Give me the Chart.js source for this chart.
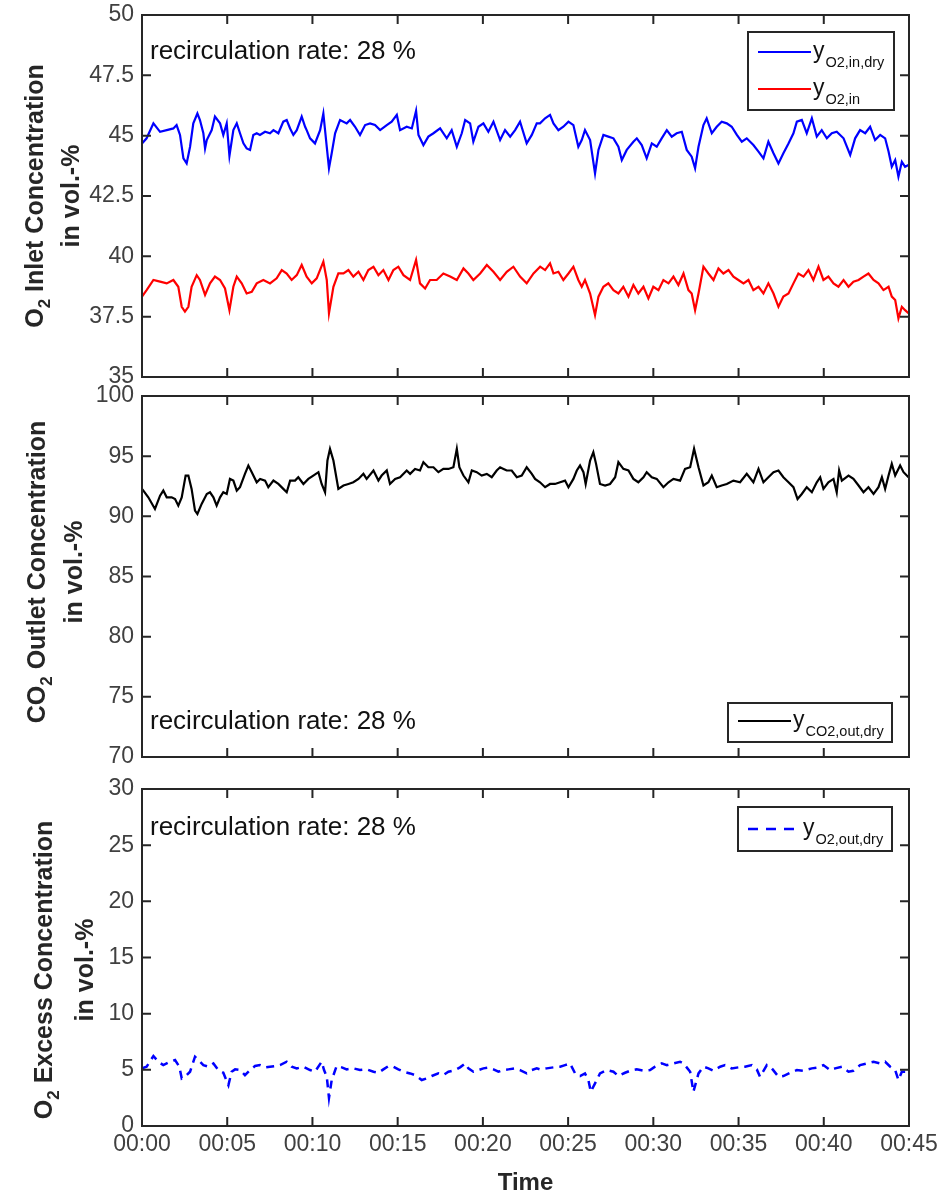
<!DOCTYPE html>
<html>
<head>
<meta charset="utf-8">
<script src="https://cdn.jsdelivr.net/npm/chart.js@4.4.1/dist/chart.umd.min.js"></script>
<style>
  body { margin: 0; background: #fff; }
  #wrap { position: relative; width: 941px; height: 1198px; }
  canvas { position: absolute; left: 0; }
</style>
</head>
<body>
<div id="wrap">
  <canvas id="inletChart" width="941" height="390" style="top:0px"></canvas>
  <canvas id="outletChart" width="941" height="390" style="top:380px"></canvas>
  <canvas id="excessChart" width="941" height="428" style="top:770px"></canvas>
</div>
<script>
// time axis (minutes)
const timeTicks = [0, 5, 10, 15, 20, 25, 30, 35, 40, 45];
const inletTicks = [35, 37.5, 40, 42.5, 45, 47.5, 50];
const outletTicks = [70, 75, 80, 85, 90, 95, 100];
const excessTicks = [0, 5, 10, 15, 20, 25, 30];

// y O2,in,dry (blue)
const o2InDryTime = [0,0.27,0.67,1.06,1.45,1.84,2.03,2.23,2.43,2.62,2.82,3.01,3.25,3.40,3.60,3.70,3.80,4.09,4.28,4.58,4.77,4.97,5.13,5.36,5.56,5.75,5.95,6.14,6.34,6.53,6.73,6.92,7.22,7.51,7.71,8.00,8.29,8.49,8.69,8.88,9.08,9.37,9.57,9.66,9.86,10.15,10.45,10.64,10.84,10.97,11.13,11.33,11.62,12.01,12.21,12.50,12.79,13.09,13.38,13.67,13.97,14.36,14.65,14.95,15.14,15.53,15.83,16.08,16.22,16.51,16.80,17.10,17.49,17.88,18.17,18.47,18.76,18.96,19.25,19.44,19.74,20.03,20.32,20.62,21.01,21.30,21.60,21.89,22.18,22.57,22.87,23.16,
  23.35,23.65,23.94,24.14,24.43,24.72,25.02,25.31,25.60,25.80,25.99,26.29,26.58,26.78,27.07,27.36,27.66,27.95,28.15,28.44,28.83,29.03,29.32,29.61,29.91,30.20,30.49,30.79,31.08,31.37,31.67,31.96,32.25,32.45,32.65,32.94,33.13,33.43,33.72,34.01,34.31,34.60,34.90,35.19,35.48,35.87,36.17,36.46,36.75,37.05,37.34,37.63,37.93,38.22,38.42,38.71,39.00,39.30,39.59,39.88,40.18,40.47,40.76,41.16,41.55,41.84,42.13,42.43,42.72,43.01,43.31,43.60,43.80,43.99,44.19,44.38,44.58,44.77,44.97];
const o2InDry = [44.68,44.89,45.51,45.16,45.23,45.30,45.44,45.03,44.06,43.85,44.54,45.51,45.92,45.65,45.10,44.47,44.82,45.23,45.79,45.51,45.03,45.51,44.16,45.23,45.51,45.10,44.68,44.47,44.41,45.03,45.10,45.03,45.16,45.10,45.23,45.10,45.58,45.65,45.30,45.03,45.23,45.79,45.37,45.23,44.89,44.68,45.23,45.92,44.54,43.65,44.27,45.10,45.65,45.51,45.65,45.37,45.03,45.44,45.51,45.44,45.23,45.44,45.58,45.86,45.23,45.37,45.30,46.03,45.03,44.61,44.96,45.10,45.30,44.89,45.23,44.54,45.10,45.65,45.51,44.75,45.37,45.51,45.16,45.58,44.82,45.23,44.96,45.23,45.58,44.68,45.03,45.51,
  45.51,45.72,45.86,45.51,45.23,45.37,45.58,45.44,44.54,44.82,45.23,44.82,43.44,44.41,45.03,44.96,44.89,44.54,43.99,44.41,44.75,44.89,44.61,44.06,44.68,44.54,44.89,45.23,44.96,45.10,45.16,44.41,44.13,43.65,44.54,45.44,45.72,45.10,45.37,45.58,45.51,45.37,45.03,44.75,44.89,44.61,44.34,44.06,44.75,44.27,43.85,44.27,44.68,45.10,45.58,45.65,45.10,45.72,44.96,45.23,44.89,45.10,45.16,44.89,44.20,44.89,45.23,45.10,45.37,44.82,45.03,44.89,44.34,43.71,43.99,43.30,43.92,43.71,43.78];

// y O2,in (red)
const o2InTime = [0,0.27,0.67,1.06,1.45,1.84,2.13,2.33,2.52,2.72,2.91,3.21,3.40,3.70,3.99,4.28,4.58,4.87,5.13,5.36,5.56,5.85,6.14,6.44,6.73,7.12,7.51,7.90,8.20,8.49,8.78,9.08,9.37,9.66,9.96,10.25,10.64,10.84,10.97,11.23,11.52,11.82,12.11,12.40,12.70,12.99,13.28,13.58,13.87,14.16,14.46,14.75,15.04,15.34,15.73,16.08,16.31,16.61,16.90,17.29,17.68,18.08,18.47,18.86,19.15,19.44,19.84,20.23,20.62,21.01,21.40,21.79,22.18,22.57,22.97,23.36,
  23.65,23.94,24.14,24.43,24.72,25.02,25.31,25.60,25.80,25.99,26.29,26.58,26.78,27.07,27.36,27.66,27.95,28.24,28.54,28.83,29.12,29.42,29.71,30.00,30.30,30.59,30.89,31.18,31.47,31.77,32.06,32.25,32.45,32.65,32.94,33.23,33.53,33.82,34.11,34.41,34.70,34.99,35.29,35.58,35.87,36.17,36.46,36.75,37.05,37.34,37.63,37.93,38.22,38.51,38.81,39.10,39.39,39.69,39.98,40.27,40.57,40.86,41.16,41.45,41.74,42.04,42.33,42.62,42.92,43.21,43.50,43.80,43.99,44.19,44.38,44.58,44.77,44.97];
const o2In = [38.33,38.60,39.02,38.95,38.88,39.02,38.74,37.91,37.71,37.91,38.74,39.22,39.02,38.40,38.88,39.16,39.02,38.67,37.77,38.74,39.16,38.88,38.46,38.53,38.88,39.02,38.88,39.09,39.43,39.29,39.02,39.22,39.64,39.16,38.88,39.09,39.78,39.02,37.64,38.74,39.29,39.29,39.43,39.16,39.36,39.02,39.43,39.57,39.22,39.43,39.02,39.43,39.57,39.22,39.02,39.85,38.88,38.67,39.02,39.02,39.29,39.16,39.02,39.50,39.29,39.02,39.29,39.64,39.36,39.02,39.36,39.57,39.16,38.88,39.29,39.57,
  39.43,39.71,39.29,39.36,39.02,39.29,39.57,39.02,38.74,39.02,38.46,37.57,38.33,38.74,38.88,38.60,38.46,38.74,38.33,38.81,38.46,38.74,38.26,38.74,38.60,39.02,38.88,39.16,38.81,39.29,38.60,38.46,37.77,38.46,39.57,39.29,39.02,39.50,39.29,39.43,39.16,39.02,38.88,39.02,38.60,38.74,38.46,38.88,38.46,37.91,38.33,38.46,38.88,39.29,39.16,39.43,39.02,39.57,39.02,39.16,38.88,38.74,39.02,38.74,38.95,39.02,39.16,39.29,39.02,38.88,38.60,38.74,38.33,38.19,37.43,37.91,37.77,37.64];

// y CO2,out,dry (black)
const co2OutTime = [0,0.08,0.37,0.76,1.06,1.25,1.45,1.74,1.94,2.13,2.33,2.56,2.72,2.91,3.11,3.25,3.50,3.80,3.99,4.19,4.38,4.58,4.77,4.97,5.16,5.36,5.56,5.75,6.04,6.24,6.44,6.73,6.93,7.22,7.41,7.71,8.00,8.29,8.49,8.69,8.98,9.17,9.47,9.76,10.05,10.35,10.54,10.74,10.88,11.03,11.23,11.52,11.82,12.11,12.40,12.70,12.99,13.18,13.58,13.87,14.06,14.36,14.55,14.85,15.14,15.53,15.73,16.02,16.31,16.51,16.80,17.10,17.39,17.68,17.98,18.27,18.47,18.62,18.86,19.15,19.35,19.64,19.93,20.23,20.52,20.81,21.01,21.21,21.40,21.69,21.99,22.28,22.57,22.87,23.06,
  23.35,23.65,23.94,24.23,24.53,24.82,25.02,25.31,25.51,25.70,25.90,26.03,26.29,26.48,26.64,26.87,27.17,27.46,27.76,27.95,28.24,28.54,28.83,29.12,29.42,29.61,29.91,30.20,30.59,30.89,31.18,31.57,31.86,32.16,32.39,32.65,32.94,33.23,33.43,33.72,34.01,34.31,34.70,35.09,35.48,35.87,36.17,36.46,36.75,37.05,37.34,37.63,37.93,38.22,38.46,38.71,39.00,39.30,39.59,39.79,39.98,40.27,40.57,40.76,40.90,41.06,41.45,41.74,42.04,42.33,42.62,42.92,43.21,43.41,43.60,43.80,43.99,44.19,44.48,44.68,44.87,44.97];
const co2OutDry = [92.28,92.14,91.58,90.61,91.72,92.14,91.58,91.58,91.44,90.89,91.58,93.39,93.39,92.28,90.47,90.19,91.03,91.86,92.00,91.58,90.89,91.58,92.00,91.86,93.11,92.97,92.14,92.42,93.53,94.22,93.67,92.83,93.11,92.97,92.42,92.97,92.69,92.28,92.00,92.97,92.97,93.25,92.69,93.11,93.39,93.67,92.69,92.00,94.64,95.61,94.64,92.28,92.56,92.69,92.83,93.11,93.53,93.11,93.81,92.97,93.39,93.81,92.69,93.11,93.25,93.81,93.53,93.94,93.81,94.50,94.08,94.08,93.67,93.94,93.94,94.08,95.61,94.08,93.39,92.83,93.81,93.67,93.39,93.53,93.25,93.81,94.08,93.94,93.81,93.81,93.25,93.39,94.08,93.53,93.11,
  92.83,92.42,92.69,92.69,92.83,92.97,92.42,93.11,93.81,94.22,93.67,92.69,94.64,95.33,94.36,92.69,92.56,92.69,93.25,94.50,93.94,93.81,93.11,92.83,93.25,93.67,93.25,93.11,92.42,92.83,93.11,92.97,93.94,94.08,95.61,94.08,92.56,92.83,93.39,92.42,92.56,92.69,92.97,92.83,93.53,92.83,93.94,92.83,93.25,93.67,93.81,93.25,92.83,92.42,91.44,91.86,92.42,92.00,92.83,93.25,92.28,92.83,93.11,92.00,93.81,92.97,93.39,93.11,92.56,92.00,92.42,91.86,92.42,93.25,92.28,93.39,94.36,93.39,94.22,93.67,93.39,93.25];

// y O2,out,dry (blue dashed)
const o2OutTime = [0,0.27,0.67,0.96,1.25,1.64,1.94,2.19,2.33,2.62,2.82,3.11,3.31,3.60,3.89,4.19,4.48,4.77,5.07,5.26,5.46,5.75,6.04,6.34,6.63,6.92,7.22,7.51,7.81,8.10,8.49,8.78,9.08,9.47,9.86,10.15,10.54,10.68,10.84,10.97,11.13,11.42,11.72,12.01,12.40,12.79,13.18,13.58,13.87,14.16,14.46,14.75,15.04,15.34,15.73,16.02,16.41,16.71,17.00,17.39,17.68,17.98,18.37,18.66,18.96,19.15,19.44,19.74,20.03,20.32,20.62,20.91,21.21,21.50,21.89,22.18,22.57,22.87,23.16,
  23.35,23.74,24.14,24.53,24.82,25.11,25.41,25.70,25.99,26.19,26.33,26.58,26.87,27.27,27.66,27.95,28.34,28.64,29.03,29.42,29.81,30.10,30.49,30.79,31.18,31.57,31.77,32.16,32.35,32.65,32.94,33.23,33.53,33.92,34.21,34.60,34.99,35.38,35.78,36.07,36.26,36.66,36.95,37.34,37.63,38.03,38.42,38.81,39.30,39.69,39.98,40.37,40.67,41.06,41.45,41.74,42.13,42.52,42.92,43.31,43.60,43.90,44.19,44.38,44.58,44.87];
const o2OutDry = [5.13,5.28,6.23,5.72,5.42,5.72,5.87,5.28,4.24,4.53,4.83,6.17,5.87,5.42,5.28,5.57,4.98,4.74,3.64,4.83,5.04,4.98,4.53,4.98,5.34,5.42,5.22,5.28,5.34,5.42,5.72,5.28,5.13,5.28,4.98,4.83,5.72,4.98,4.39,2.50,4.09,5.34,5.22,5.04,5.13,4.98,5.04,4.83,4.74,5.04,5.34,5.28,5.04,4.83,4.68,4.53,4.09,4.24,4.45,4.68,4.53,4.83,4.98,5.22,5.57,5.13,4.83,4.98,5.13,5.19,5.04,4.83,4.98,5.04,5.13,4.98,4.68,4.98,5.13,
  5.04,5.13,5.22,5.28,5.42,5.57,4.68,4.45,4.68,4.09,3.05,3.79,4.68,4.98,4.83,4.45,4.74,4.92,5.04,4.92,4.98,5.28,5.57,5.42,5.57,5.72,5.57,4.83,3.05,4.68,5.28,5.13,4.92,5.28,5.42,5.13,5.22,5.28,5.42,5.04,4.39,5.42,5.13,4.39,4.45,4.74,4.98,4.92,5.13,5.22,5.42,4.98,5.13,5.28,4.83,4.92,5.42,5.57,5.72,5.57,5.72,5.28,4.98,4.09,4.83,4.83];

const noteText = 'recirculation rate: 28 %';
const FONT = "'Liberation Sans', Arial, Helvetica, sans-serif";
const AXIS = '#262626';

function pts(t, v) { return t.map((x, i) => ({ x: x, y: v[i] })); }
function pad2(n) { return (n < 10 ? '0' : '') + n; }

// frame box, inward ticks, text overlays, legend
const matlabAxes = {
  id: 'matlabAxes',
  afterDraw(chart, args, o) {
    const { ctx, chartArea: a, scales } = chart;
    ctx.save();
    // box + inward ticks
    ctx.strokeStyle = AXIS;
    ctx.lineWidth = 2;
    ctx.strokeRect(a.left, a.top, a.right - a.left, a.bottom - a.top);
    ctx.beginPath();
    timeTicks.forEach(v => {
      const x = scales.x.getPixelForValue(v);
      ctx.moveTo(x, a.bottom); ctx.lineTo(x, a.bottom - 9);
      ctx.moveTo(x, a.top); ctx.lineTo(x, a.top + 9);
    });
    o.yTicks.forEach(v => {
      const y = scales.y.getPixelForValue(v);
      ctx.moveTo(a.left, y); ctx.lineTo(a.left + 9, y);
      ctx.moveTo(a.right, y); ctx.lineTo(a.right - 9, y);
    });
    ctx.stroke();

    // y title with subscript, two lines
    const t = o.yTitle;
    ctx.fillStyle = AXIS;
    ctx.textBaseline = 'middle';
    ctx.textAlign = 'left';
    ctx.save();
    ctx.translate(t.x1, t.cy);
    ctx.rotate(-Math.PI / 2);
    ctx.font = 'bold 25px ' + FONT;
    const w1 = ctx.measureText(t.main).width;
    const w3 = ctx.measureText(t.rest).width;
    ctx.font = 'bold 17px ' + FONT;
    const w2 = ctx.measureText(t.sub).width;
    let s = -(w1 + w2 + w3) / 2;
    ctx.font = 'bold 25px ' + FONT;
    ctx.fillText(t.main, s, 0);
    ctx.font = 'bold 17px ' + FONT;
    ctx.fillText(t.sub, s + w1, 9);
    ctx.font = 'bold 25px ' + FONT;
    ctx.fillText(t.rest, s + w1 + w2, 0);
    ctx.restore();
    ctx.save();
    ctx.translate(t.x2, t.cy);
    ctx.rotate(-Math.PI / 2);
    ctx.font = 'bold 25px ' + FONT;
    ctx.textAlign = 'center';
    ctx.fillText(t.line2, 0, 0);
    ctx.restore();

    // note
    ctx.fillStyle = '#111';
    ctx.font = '26px ' + FONT;
    ctx.textAlign = 'left';
    ctx.fillText(noteText, a.left + 8, o.noteY);

    // legend
    const L = o.legend;
    ctx.fillStyle = '#fff';
    ctx.fillRect(L.box[0], L.box[1], L.box[2] - L.box[0], L.box[3] - L.box[1]);
    ctx.strokeStyle = AXIS;
    ctx.lineWidth = 2;
    ctx.strokeRect(L.box[0], L.box[1], L.box[2] - L.box[0], L.box[3] - L.box[1]);
    L.items.forEach(it => {
      ctx.save();
      ctx.strokeStyle = it.color;
      ctx.lineWidth = it.dash ? 2.5 : 2;
      ctx.setLineDash(it.dash || []);
      ctx.beginPath();
      ctx.moveTo(L.box[0] + 10, it.y);
      ctx.lineTo(L.box[0] + 63, it.y);
      ctx.stroke();
      ctx.restore();
      ctx.fillStyle = '#111';
      ctx.textBaseline = 'alphabetic';
      ctx.font = '23px ' + FONT;
      ctx.fillText('y', L.box[0] + 65, it.y + 6);
      const wy = ctx.measureText('y').width;
      ctx.font = '14.5px ' + FONT;
      ctx.fillText(it.sub, L.box[0] + 66 + wy, it.y + 15);
    });
    ctx.restore();
  }
};

function makeChart(id, datasets, yMin, yMax, yTicks, pad, withX, extra) {
  return new Chart(document.getElementById(id), {
    type: 'line',
    data: { datasets: datasets },
    plugins: [matlabAxes],
    options: {
      responsive: false,
      animation: false,
      events: [],
      layout: { padding: { top: pad.top, bottom: pad.bottom, left: 0, right: 32 } },
      elements: { point: { radius: 0 }, line: { tension: 0 } },
      scales: {
        x: {
          type: 'linear',
          min: 0, max: 45,
          display: withX,
          afterBuildTicks: s => { s.ticks = timeTicks.map(v => ({ value: v })); },
          afterFit: s => {
            if (withX) { s.height = 72; }
            s.paddingLeft = 0; s.paddingRight = 0;
          },
          grid: { display: false, drawTicks: false },
          border: { display: false },
          ticks: {
            autoSkip: false, maxRotation: 0, padding: 5,
            color: '#404040',
            font: { family: FONT, size: 23 },
            callback: v => '00:' + pad2(v)
          },
          title: {
            display: true, text: 'Time', color: AXIS,
            font: { family: FONT, size: 24, weight: 'bold' },
            padding: { top: 0, bottom: 0 }
          }
        },
        y: {
          min: yMin, max: yMax,
          afterBuildTicks: s => { s.ticks = yTicks.map(v => ({ value: v })); },
          afterFit: s => {
            s.width = 142;
            s.paddingTop = 0; s.paddingBottom = 0;
          },
          grid: { display: false, drawTicks: false },
          border: { display: false },
          ticks: {
            padding: 8,
            color: '#404040',
            font: { family: FONT, size: 23 }
          }
        }
      },
      plugins: {
        legend: { display: false },
        tooltip: { enabled: false },
        matlabAxes: extra
      }
    }
  });
}

makeChart('inletChart', [
  { label: 'y O2,in,dry', data: pts(o2InDryTime, o2InDry), borderColor: '#0000ff', borderWidth: 2.2 },
  { label: 'y O2,in', data: pts(o2InTime, o2In), borderColor: '#ff0000', borderWidth: 2.2 }
], 35, 50, inletTicks, { top: 15, bottom: 13 }, false, {
  yTicks: inletTicks,
  yTitle: { x1: 36, x2: 72, cy: 196, main: 'O', sub: '2', rest: ' Inlet Concentration', line2: 'in vol.-%' },
  noteY: 52,
  legend: {
    box: [748, 32, 894, 110],
    items: [
      { color: '#0000ff', y: 52, sub: 'O2,in,dry' },
      { color: '#ff0000', y: 89, sub: 'O2,in' }
    ]
  }
});

makeChart('outletChart', [
  { label: 'y CO2,out,dry', data: pts(co2OutTime, co2OutDry), borderColor: '#000000', borderWidth: 2.2 }
], 70, 100, outletTicks, { top: 16, bottom: 13 }, false, {
  yTicks: outletTicks,
  yTitle: { x1: 38, x2: 75, cy: 192, main: 'CO', sub: '2', rest: ' Outlet Concentration', line2: 'in vol.-%' },
  noteY: 342,
  legend: {
    box: [728, 323, 892, 362],
    items: [
      { color: '#000000', y: 341, sub: 'CO2,out,dry' }
    ]
  }
});

makeChart('excessChart', [
  { label: 'y O2,out,dry', data: pts(o2OutTime, o2OutDry), borderColor: '#0000ff', borderWidth: 2.5, borderDash: [8, 6] }
], 0, 30, excessTicks, { top: 19, bottom: 0 }, true, {
  yTicks: excessTicks,
  yTitle: { x1: 45, x2: 86, cy: 200, main: 'O', sub: '2', rest: ' Excess Concentration', line2: 'in vol.-%' },
  noteY: 58,
  legend: {
    box: [738, 37, 892, 81],
    items: [
      { color: '#0000ff', y: 59, sub: 'O2,out,dry', dash: [10, 8] }
    ]
  }
});
</script>
</body>
</html>
